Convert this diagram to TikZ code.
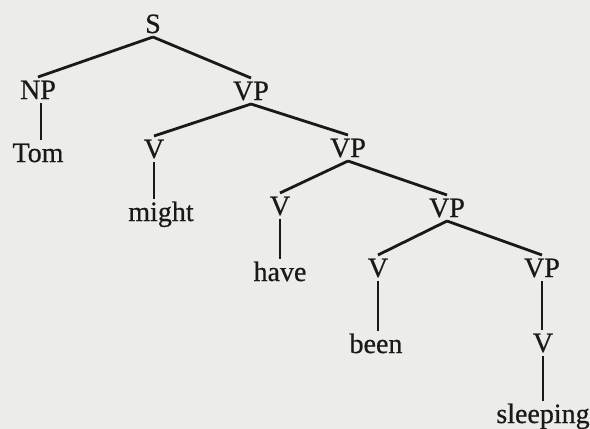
\documentclass[tikz,border=0pt]{standalone}
\usepackage{fontspec}
\setmainfont[FakeBold=0.6]{Liberation Serif}
\definecolor{paper}{RGB}{236,236,233}
\definecolor{ink}{RGB}{25,25,25}
\begin{document}
\begin{tikzpicture}[x=1pt,y=-1pt,
  lbl/.style={anchor=base, inner sep=0pt, outer ysep=4pt,
              text height=18pt, text depth=0pt,
              font=\fontsize{28}{30}\selectfont, text=ink},
  branch/.style={draw=ink, line width=2.8pt}]
\fill[paper] (0,0) rectangle (590,429);
\useasboundingbox (0,0) rectangle (590,429);

% categories and words, placed on their baselines
\node[lbl] (S)    at (153,33)  {S};
\node[lbl] (NP)   at (38,99)   {NP};
\node[lbl] (tom)  at (38,162)  {Tom};
\node[lbl] (VPa)  at (251,100) {VP};
\node[lbl] (Va)   at (154,158) {V};
\node[lbl] (might) at (161,221) {might};
\node[lbl] (VPb)  at (348,157) {VP};
\node[lbl] (Vb)   at (280,215) {V};
\node[lbl] (have) at (280,281) {have};
\node[lbl] (VPc)  at (447,217) {VP};
\node[lbl] (Vc)   at (378,277) {V};
\node[lbl] (been) at (376,353) {been};
\node[lbl] (VPd)  at (542,277) {VP};
\node[lbl] (Vd)   at (543,352) {V};
\node[lbl] (sleeping) at (543,423) {sleeping};

% branches
\draw[branch] (S.south)   -- (NP.north);
\draw[branch] (S.south)   -- (VPa.north);
\draw[branch] ([xshift=3pt]NP.south) -- ([xshift=3pt]NP.south |- tom.north);
\draw[branch] (VPa.south) -- (Va.north);
\draw[branch] (VPa.south) -- (VPb.north);
\draw[branch] (Va.south)  -- (Va.south |- might.north);
\draw[branch] (VPb.south) -- (Vb.north);
\draw[branch] (VPb.south) -- (VPc.north);
\draw[branch] (Vb.south)  -- (Vb.south |- have.north);
\draw[branch] (VPc.south) -- (Vc.north);
\draw[branch] (VPc.south) -- (VPd.north);
\draw[branch] (Vc.south)  -- (Vc.south |- been.north);
\draw[branch] (VPd.south) -- (VPd.south |- Vd.north);
\draw[branch] (Vd.south)  -- (Vd.south |- sleeping.north);
\end{tikzpicture}
\end{document}
